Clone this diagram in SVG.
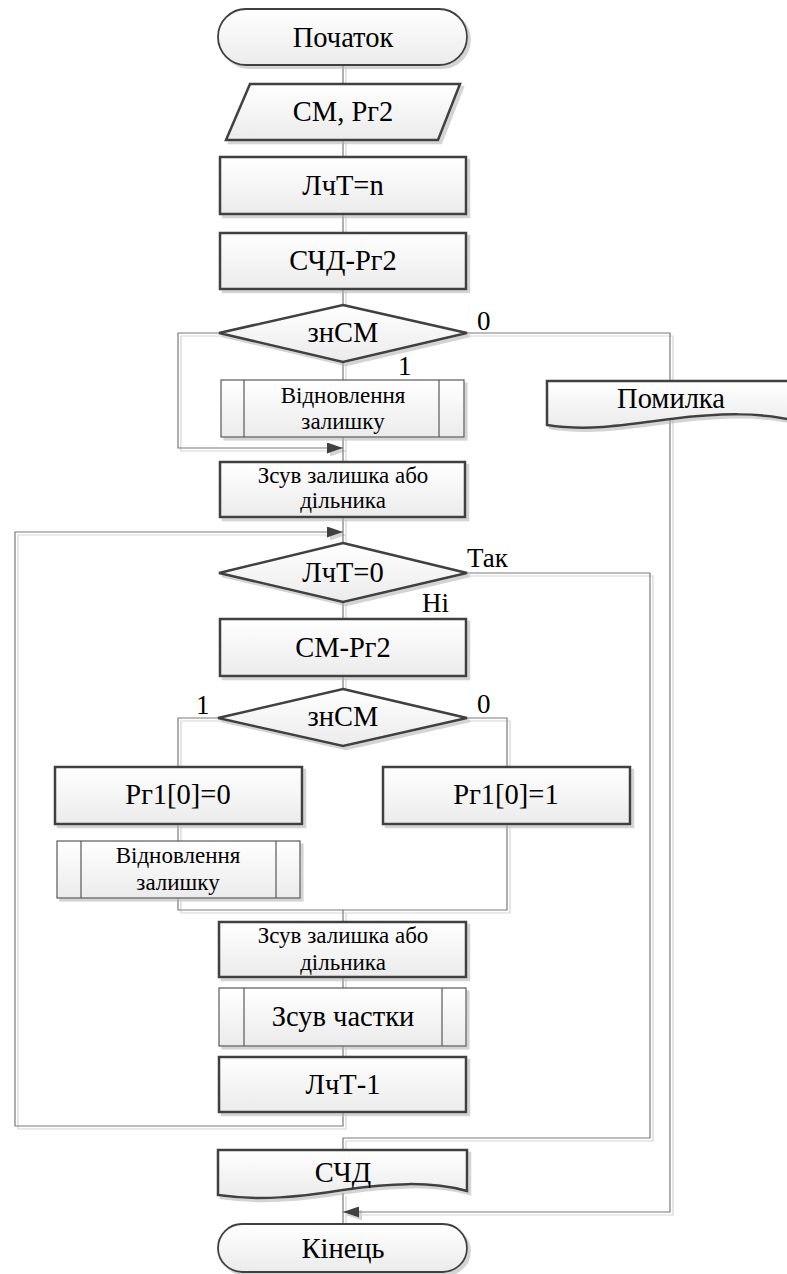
<svg xmlns="http://www.w3.org/2000/svg" width="787" height="1274" viewBox="0 0 787 1274">
<defs>
<linearGradient id="g" x1="0" y1="0" x2="0" y2="1">
<stop offset="0" stop-color="#ffffff"/>
<stop offset="1" stop-color="#ebebeb"/>
</linearGradient>
<filter id="sh" x="-10%" y="-10%" width="130%" height="140%">
<feDropShadow dx="3" dy="3" stdDeviation="0.6" flood-color="#b0b0b0" flood-opacity="0.55"/>
</filter>
<marker id="arr" viewBox="0 0 16 11" refX="16" refY="5.5" markerWidth="16" markerHeight="11" markerUnits="userSpaceOnUse" orient="auto">
<path d="M0,0 L16,5.5 L0,11 Z" fill="#404040"/>
</marker>
<style>
.n{fill:url(#g);stroke:#404040;stroke-width:2.5;filter:url(#sh)}
.t{fill:url(#g);stroke:#404040;stroke-width:1.8;filter:url(#sh)}
.p{fill:url(#g);stroke:#595959;stroke-width:1.2;filter:url(#sh)}
.pl{fill:none;stroke:#595959;stroke-width:1.2}
.c{fill:none;stroke:#7a7a7a;stroke-width:1.2}
text{font-family:'Liberation Serif','Times New Roman',serif;fill:#000}
.L{font-size:28.5px;text-anchor:middle}
.S{font-size:23px;text-anchor:middle}
.lb{font-size:27px}
</style>
</defs>
<rect width="787" height="1274" fill="#ffffff"/>

<g id="connectors" filter="url(#sh)">
<path class="c" d="M343,65 V84"/>
<path class="c" d="M343,140 V157"/>
<path class="c" d="M343,214 V233"/>
<path class="c" d="M343,289 V305"/>
<path class="c" d="M343,362 V380"/>
<path class="c" d="M219,333 H178 V448 H343" marker-end="url(#arr)"/>
<path class="c" d="M343,437 V462"/>
<path class="c" d="M467,333 H670 V1212 H343" marker-end="url(#arr)"/>
<path class="c" d="M343,517 V543"/>
<path class="c" d="M343,1112 V1126 H15 V532 H343" marker-end="url(#arr)"/>
<path class="c" d="M467,573 H650 V1138 H343 V1150"/>
<path class="c" d="M343,602 V619"/>
<path class="c" d="M343,676 V689"/>
<path class="c" d="M218,718 H178 V767"/>
<path class="c" d="M467,718 H507 V767"/>
<path class="c" d="M178,824 V841"/>
<path class="c" d="M178,898 V910 H507 V824"/>
<path class="c" d="M343,910 V922"/>
<path class="c" d="M343,977 V988"/>
<path class="c" d="M343,1046 V1057"/>
<path class="c" d="M343,1193 V1224"/>
</g>

<g id="start">
<rect class="t" x="218" y="9" width="249" height="56" rx="28" ry="28"/>
<text class="L" x="343" y="47">Початок</text>
</g>
<g id="input">
<path class="n" d="M250,84 H460 L438,140 H226 Z"/>
<text class="L" x="343" y="121">СМ, Рг2</text>
</g>
<g id="set-counter">
<rect class="n" x="220" y="157" width="246" height="57"/>
<text class="L" x="343" y="195">ЛчТ=n</text>
</g>
<g id="sub1">
<rect class="n" x="220" y="233" width="246" height="56"/>
<text class="L" x="343" y="270">СЧД-Рг2</text>
</g>
<g id="dec1">
<path class="n" d="M343,305 L467,333 L343,362 L219,333 Z"/>
<text class="L" x="343" y="342">знСМ</text>
</g>
<g id="restore1">
<rect class="p" x="221" y="380" width="243" height="57"/>
<path class="pl" d="M244,380 V437 M439,380 V437"/>
<text class="S" x="343" y="403">Відновлення</text>
<text class="S" x="343" y="429">залишку</text>
</g>
<g id="shift1">
<rect class="n" x="220" y="462" width="245" height="55"/>
<text class="S" x="343" y="483">Зсув залишка або</text>
<text class="S" x="343" y="508">дільника</text>
</g>
<g id="error">
<path class="n" d="M547,381 H796 V421 C760,412 720,413 671,419 C620,426 585,431 547,425 Z"/>
<text class="L" x="671" y="408">Помилка</text>
</g>
<g id="dec-counter">
<path class="n" d="M343,543 L467,573 L343,602 L219,573 Z"/>
<text class="L" x="343" y="582">ЛчТ=0</text>
</g>
<g id="sub2">
<rect class="n" x="220" y="619" width="246" height="57"/>
<text class="L" x="343" y="657">СМ-Рг2</text>
</g>
<g id="dec2">
<path class="n" d="M343,689 L467,718 L343,746 L218,718 Z"/>
<text class="L" x="343" y="726">знСМ</text>
</g>
<g id="bit0">
<rect class="n" x="55" y="767" width="247" height="57"/>
<text class="L" x="178" y="804">Рг1[0]=0</text>
</g>
<g id="bit1">
<rect class="n" x="383" y="767" width="247" height="57"/>
<text class="L" x="506" y="804">Рг1[0]=1</text>
</g>
<g id="restore2">
<rect class="p" x="57" y="841" width="243" height="57"/>
<path class="pl" d="M81,841 V898 M276,841 V898"/>
<text class="S" x="178" y="863">Відновлення</text>
<text class="S" x="178" y="890">залишку</text>
</g>
<g id="shift2">
<rect class="n" x="219" y="922" width="247" height="55"/>
<text class="S" x="343" y="943">Зсув залишка або</text>
<text class="S" x="343" y="970">дільника</text>
</g>
<g id="shift-quotient">
<rect class="p" x="219" y="988" width="247" height="58"/>
<path class="pl" d="M244,988 V1046 M442,988 V1046"/>
<text class="L" x="343" y="1026">Зсув частки</text>
</g>
<g id="dec-count">
<rect class="n" x="219" y="1057" width="247" height="55"/>
<text class="L" x="343" y="1094">ЛчТ-1</text>
</g>
<g id="output">
<path class="n" d="M218,1150 H467 V1191 C430,1181 390,1183 343,1190 C300,1197 260,1201 218,1195 Z"/>
<text class="L" x="343" y="1182">СЧД</text>
</g>
<g id="end">
<rect class="t" x="218" y="1224" width="249" height="48" rx="24" ry="24"/>
<text class="L" x="343" y="1258">Кінець</text>
</g>

<g id="labels">
<text class="lb" x="477" y="330">0</text>
<text class="lb" x="398" y="375">1</text>
<text class="lb" x="467" y="567">Так</text>
<text class="lb" x="422" y="612">Ні</text>
<text class="lb" x="196" y="714">1</text>
<text class="lb" x="477" y="713">0</text>
</g>
</svg>
